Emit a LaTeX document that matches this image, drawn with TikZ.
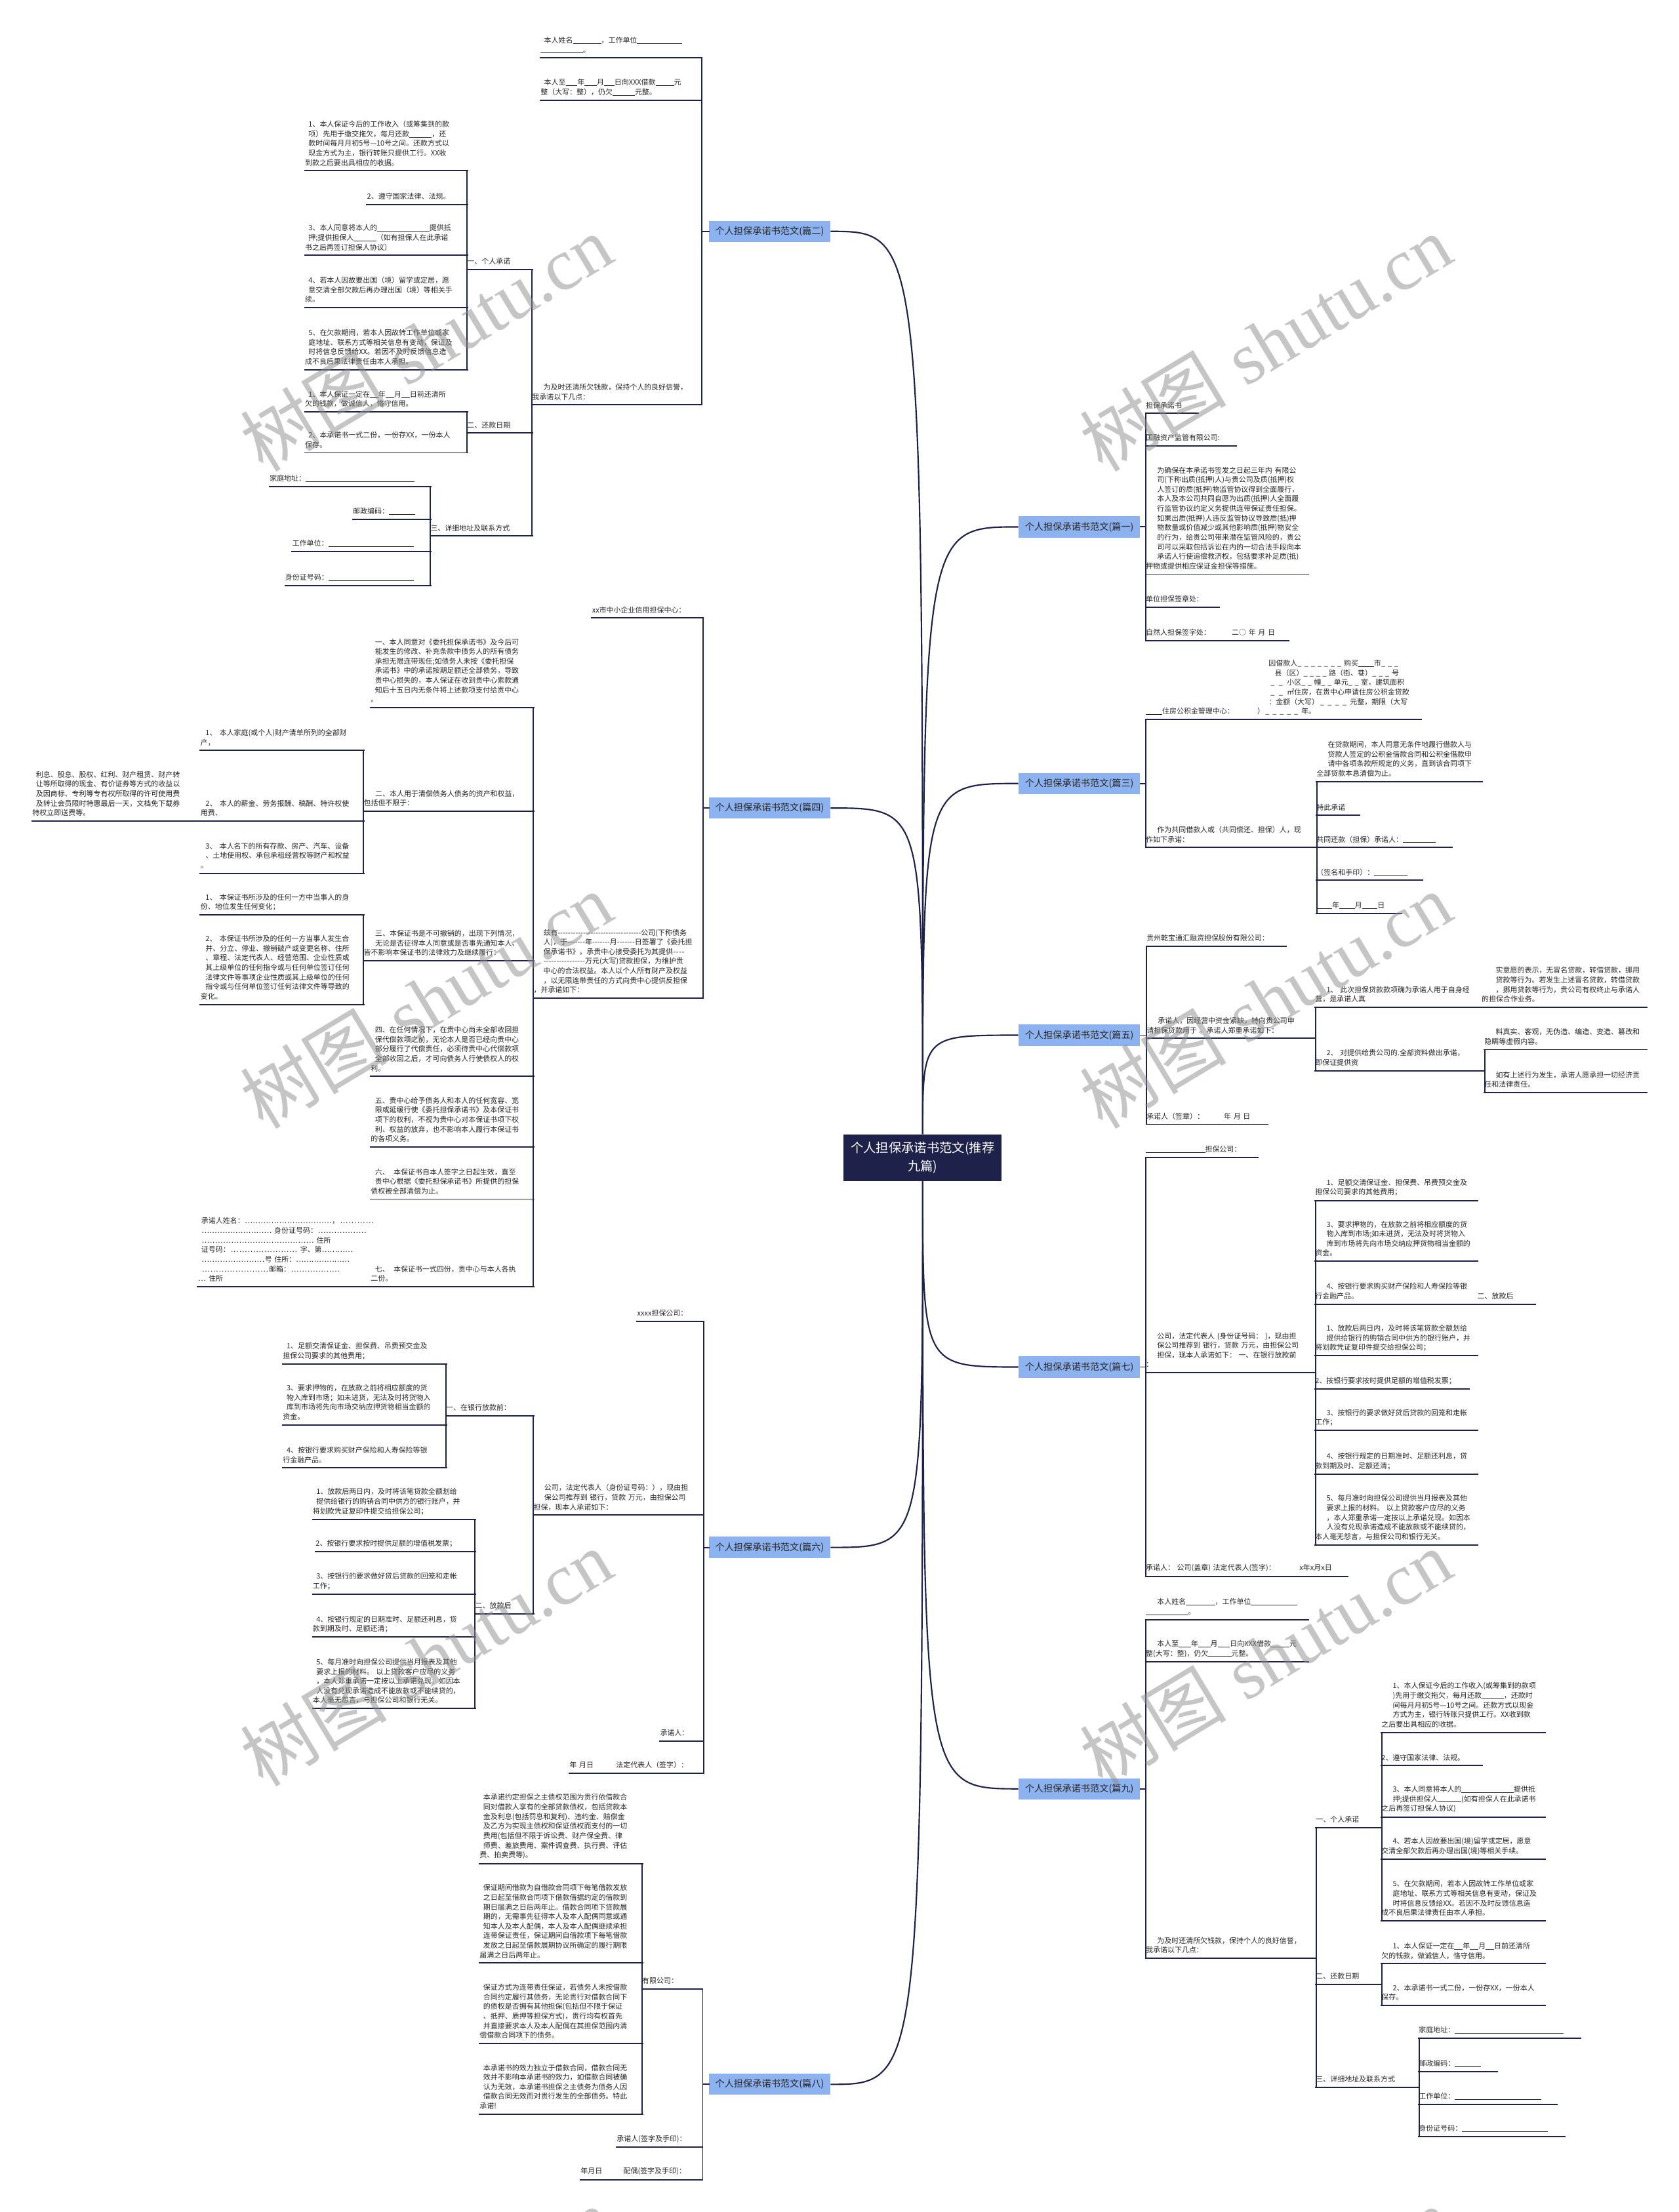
\documentclass[tikz,border=0pt]{standalone}
\usepackage{fontspec}
\newfontfamily\cjk{Noto Sans CJK SC}
\newfontfamily\wmlat{Liberation Serif}
\definecolor{navy}{RGB}{30,33,74}
\definecolor{brfill}{RGB}{141,178,240}
\definecolor{txtc}{RGB}{38,38,38}
\newcommand\blk[1]{\leavevmode\rule[-0.55pt]{#1pt}{0.35pt}}
\newcommand\dln[1]{\leavevmode\hbox to #1pt{\xleaders\hbox{-}\hfill}}
\newcommand\ddt[1]{\leavevmode\hbox to #1pt{\xleaders\hbox{…}\hfill}}
\newcommand\dsh[1]{\leavevmode\hbox to #1pt{\xleaders\hbox{\_\hspace{1.6pt}}\hfill}}
\newcommand\mnode[6]{%
  \pgfmathsetmacro\ndw{#3-#2}%
  \node[nd,text width=\ndw pt,anchor=south west] (#1) at (#2,#4) {\leftskip=#5pt\relax #6\rule[-0.6pt]{0pt}{0.6pt}};%
  \draw[ul] (#1.south west) -- (#1.south east);%
}
\tikzset{
  nd/.style={font=\cjk\fontsize{5.1}{6.8}\selectfont,text=txtc,align=left,inner xsep=0pt,inner ysep=3pt},
  ul/.style={draw=navy,line width=0.9pt,line cap=rect},
  cv/.style={draw=navy,line width=1pt},
  br/.style={fill=brfill,text=black!85,font=\cjk\fontsize{6.6}{8}\selectfont,minimum width=86pt,minimum height=15pt,inner sep=0pt},
  ctr/.style={fill=navy,text=white,font=\cjk\fontsize{9}{13}\selectfont,minimum width=112pt,minimum height=33pt,text width=108pt,align=center,inner sep=0pt},
  wm/.style={text=black!45,text opacity=0.5,rotate=31,inner sep=0pt,font=\fontsize{52}{60}\selectfont},
}
\begin{document}
\begin{tikzpicture}[x=1pt,y=-1pt]
\fill[white] (0,0) rectangle (1190,1568);
\useasboundingbox (0,0) rectangle (1190,1568);

% ---------- centre and branches ----------
\node[ctr] (c) at (654,820.5) {个人担保承诺书范文(推荐\\九篇)};
\node[br] (b1) at (765,373.5) {个人担保承诺书范文(篇一)};
\node[br] (b2) at (545.5,164) {个人担保承诺书范文(篇二)};
\node[br] (b3) at (765,555.4) {个人担保承诺书范文(篇三)};
\node[br] (b4) at (545.5,572.8) {个人担保承诺书范文(篇四)};
\node[br] (b5) at (765,733.8) {个人担保承诺书范文(篇五)};
\node[br] (b6) at (545.5,1096.9) {个人担保承诺书范文(篇六)};
\node[br] (b7) at (765,969) {个人担保承诺书范文(篇七)};
\node[br] (b8) at (545.5,1477.5) {个人担保承诺书范文(篇八)};
\node[br] (b9) at (765,1268) {个人担保承诺书范文(篇九)};

\draw[cv] (c.north) .. controls (654,373.5) .. (b1.west);
\draw[cv] (c.north) .. controls (654,164) .. (b2.east);
\draw[cv] (c.north) .. controls (654,555.4) .. (b3.west);
\draw[cv] (c.north) .. controls (654,572.8) .. (b4.east);
\draw[cv] (c.north) .. controls (654,733.8) .. (b5.west);
\draw[cv] (c.south) .. controls (654,1096.9) .. (b6.east);
\draw[cv] (c.south) .. controls (654,969) .. (b7.west);
\draw[cv] (c.south) .. controls (654,1477.5) .. (b8.east);
\draw[cv] (c.south) .. controls (654,1268) .. (b9.west);

% ---------- 篇一 ----------
\mnode{n1a}{812}{849}{293}{8}{担保承诺书}
\mnode{n1b}{812}{876}{316}{8}{国融资产监管有限公司:}
\mnode{n1c}{812}{927}{407}{8}{为确保在本承诺书签发之日起三年内 有限公\\
司(下称出质(抵押)人)与贵公司及质(抵押)权\\
人签订的质(抵押)物监管协议得到全面履行，\\
本人及本公司共同自愿为出质(抵押)人全面履\\
行监管协议约定义务提供连带保证责任担保。\\
如果出质(抵押)人违反监管协议导致质(抵)押\\
物数量或价值减少或其他影响质(抵押)物安全\\
的行为，给贵公司带来潜在监管风险的，贵公\\
司可以采取包括诉讼在内的一切合法手段向本\\
承诺人行使追偿救济权，包括要求补足质(抵)\\
押物或提供相应保证金担保等措施。}
\mnode{n1d}{812}{864}{430.5}{8}{单位担保签章处：}
\mnode{n1e}{812}{913}{454}{8}{自然人担保签字处：\hspace{15pt}二○ 年 月 日}
\foreach \q in {n1a,n1b,n1c,n1d,n1e} \draw[ul] (b1.east) -| (\q.south west);

% ---------- 篇三 ----------
\mnode{n3a}{812}{891}{510}{8}{\blk{11.6}住房公积金管理中心：}
\mnode{n3a1}{891}{1007}{510}{8}{因借款人\dsh{33}购买\blk{11}市\dsh{14}\\
\dsh{4.3}县（区）\dsh{18}路（街、巷）\dsh{14}号\dsh{4.3}\\
\dsh{13}小区\dsh{9}幢\dsh{9}单元\dsh{9}室，建筑面积\\
\dsh{13}㎡住房，在贵中心申请住房公积金贷款\\
：金额（大写）\dsh{22}元整，期限（大写\\
）\dsh{26}年。}
\mnode{n3b}{812}{933}{600.7}{8}{作为共同借款人或（共同偿还、担保）人，现\\作如下承诺：}
\mnode{n3b1}{933}{1050}{554}{8}{在贷款期间，本人同意无条件地履行借款人与\\
贷款人签定的公积金借款合同和公积金借款申\\
请中各项条款所规定的义务，直到该合同项下\\
全部贷款本息清偿为止。}
\mnode{n3b2}{933}{963.5}{578}{8}{特此承诺}
\mnode{n3b3}{933}{1029}{600.7}{8}{共同还款（担保）承诺人：\blk{23}}
\mnode{n3b4}{933}{1008}{624}{8}{（签名和手印）：\blk{23.5}}
\mnode{n3b5}{933}{993}{647.5}{8}{\blk{11}年\blk{11}月\blk{11}日}
\foreach \q in {n3a,n3b} \draw[ul] (b3.east) -| (\q.south west);
\draw[ul] (n3a.south east) |- (n3a1.south west);
\foreach \q in {n3b1,n3b2,n3b3,n3b4,n3b5} \draw[ul] (n3b.south east) |- (\q.south west);

% ---------- 篇五 ----------
\mnode{n5a}{812.5}{911}{670.6}{8}{贵州乾宝通汇融资担保股份有限公司：}
\mnode{n5b}{812.5}{932}{736}{8}{承诺人，因经营中资金紧缺，特向贵公司申\\请担保贷款用于 。承诺人郑重承诺如下：}
\mnode{n5b1}{932}{1050}{714}{8}{1、 此次担保贷款款项确为承诺人用于自身经\\营，是承诺人真}
\mnode{n5b1a}{1050}{1167}{714}{10}{实意愿的表示，无冒名贷款，转借贷款，挪用\\
贷款等行为。若发生上述冒名贷款，转借贷款\\
，挪用贷款等行为，贵公司有权终止与承诺人\\
的担保合作业务。}
\mnode{n5b2}{932}{1052}{759}{8}{2、 对提供给贵公司的.全部资料做出承诺，\\即保证提供资}
\mnode{n5b2a}{1052}{1167}{744}{8}{料真实、客观，无伪造、编造、变造、篡改和\\隐瞒等虚假内容。}
\mnode{n5b2b}{1052}{1167}{774.5}{8}{如有上述行为发生，承诺人愿承担一切经济责\\任和法律责任。}
\mnode{n5c}{812.5}{898}{797}{8}{承诺人（签章）：\hspace{14pt}年 月 日}
\foreach \q in {n5a,n5b,n5c} \draw[ul] (b5.east) -| (\q.south west);
\foreach \q in {n5b1,n5b2} \draw[ul] (n5b.south east) |- (\q.south west);
\draw[ul] (n5b1.south east) |- (n5b1a.south west);
\foreach \q in {n5b2a,n5b2b} \draw[ul] (n5b2.south east) |- (\q.south west);

% ---------- 篇七 ----------
\mnode{n7a}{812}{891}{820.5}{8}{\blk{42}担保公司：}
\mnode{n7b}{812}{932}{973}{8}{公司，法定代表人 (身份证号码： )，现由担\\
保公司推荐到 银行，贷款 万元，由担保公司\\
担保，现本人承诺如下： 一、在银行放款前\\
：}
\mnode{n7b1}{932}{1047}{851}{8}{1、足额交清保证金、担保费、吊费预交金及\\担保公司要求的其他费用；}
\mnode{n7b2}{932}{1047}{894}{8}{3、要求押物的，在放款之前将相应额度的货\\
物入库到市场;如未进货，无法及时将货物入\\
库到市场将先向市场交纳应押货物相当金额的\\
资金。}
\mnode{n7b3}{932}{1047}{924.5}{8}{4、按银行要求购买财产保险和人寿保险等银\\行金融产品。}
\mnode{n7b3a}{1047}{1088}{924.5}{13}{二、放款后}
\mnode{n7b4}{932}{1047}{961}{8}{1、放款后两日内，及时将该笔贷款全额划给\\
提供给银行的购销合同中供方的银行账户，并\\
将划款凭证复印件提交给担保公司；}
\mnode{n7b5}{932}{1041}{984.5}{8}{2、按银行要求按时提供足额的增值税发票；}
\mnode{n7b6}{932}{1047}{1014}{8}{3、按银行的要求做好贷后贷款的回笼和走帐\\工作；}
\mnode{n7b7}{932}{1047}{1045}{8}{4、按银行规定的日期准时、足额还利息，贷\\款到期及时、足额还清；}
\mnode{n7b8}{932}{1047}{1095}{8}{5、每月准时向担保公司提供当月报表及其他\\
要求上报的材料。 以上贷款客户应尽的义务\\
，本人郑重承诺一定按以上承诺兑现。如因本\\
人没有兑现承诺造成不能放款或不能续贷的，\\
本人毫无怨言，与担保公司和银行无关。}
\mnode{n7c}{812}{955}{1117.5}{8}{承诺人： 公司(盖章) 法定代表人(签字)：\hspace{17pt}x年x月x日}
\foreach \q in {n7a,n7b,n7c} \draw[ul] (b7.east) -| (\q.south west);
\foreach \q in {n7b1,n7b2,n7b3,n7b4,n7b5,n7b6,n7b7,n7b8} \draw[ul] (n7b.south east) |- (\q.south west);
\draw[ul] (n7b3.south east) |- (n7b3a.south west);

% ---------- 篇九 ----------
\mnode{n9a}{812}{927}{1148}{8}{本人姓名\blk{20.6}，工作单位\blk{33}\\\blk{30}。}
\mnode{n9b}{812}{927}{1178}{8}{本人至\blk{8.7}年\blk{8.7}月\blk{8.7}日向XXX借款\blk{13}元\\整(大写：整)，仍欠\blk{16.4}元整。}
\mnode{n9c}{812}{932.5}{1388}{8}{为及时还清所欠钱款，保持个人的良好信誉，\\我承诺以下几点：}
\mnode{n9c1}{932.5}{979}{1295.5}{8}{一、个人承诺}
\mnode{n9c1a}{979}{1094.7}{1228}{8}{1、本人保证今后的工作收入(或筹集到的款项\\
)先用于缴交拖欠，每月还款\blk{15.8}，还款时\\
间每月月初5号—10号之间。还款方式以现金\\
方式为主，银行转账只提供工行。XX收到款\\
之后要出具相应的收据。}
\mnode{n9c1b}{979}{1050}{1251.5}{8}{2、遵守国家法律、法规。}
\mnode{n9c1c}{979}{1094.7}{1288}{8}{3、本人同意将本人的\blk{37}提供抵\\
押;提供担保人\blk{16.6}(如有担保人在此承诺书\\
之后再签订担保人协议)}
\mnode{n9c1d}{979}{1094.7}{1318}{8}{4、若本人因故要出国(境)留学或定居，愿意\\交清全部欠款后再办理出国(境)等相关手续。}
\mnode{n9c1e}{979}{1094.7}{1361.6}{8}{5、在欠款期间，若本人因故转工作单位或家\\
庭地址、联系方式等相关信息有变动，保证及\\
时将信息反馈给XX。若因不及时反馈信息造\\
成不良后果法律责任由本人承担。}
\mnode{n9c2}{932.5}{979}{1406.5}{8}{二、还款日期}
\mnode{n9c2a}{979}{1094.7}{1392}{8}{1、本人保证一定在\blk{6}年\blk{6}月\blk{6}日前还清所\\欠的钱款，做诚信人，恪守信用。}
\mnode{n9c2b}{979}{1094.7}{1421.5}{8}{2、本承诺书一式二份，一份存XX，一份本人\\保存。}
\mnode{n9c3}{932.5}{1005.5}{1479.5}{8}{三、详细地址及联系方式}
\mnode{n9c3a}{1005.5}{1120}{1444.8}{7.5}{家庭地址：\blk{77}}
\mnode{n9c3b}{1005.5}{1061}{1468.5}{7.5}{邮政编码：\blk{18.4}}
\mnode{n9c3c}{1005.5}{1103}{1491.7}{7.5}{工作单位：\blk{61}}
\mnode{n9c3d}{1005.5}{1108.6}{1514.5}{7.5}{身份证号码：\blk{61}}
\foreach \q in {n9a,n9b,n9c} \draw[ul] (b9.east) -| (\q.south west);
\foreach \q in {n9c1,n9c2,n9c3} \draw[ul] (n9c.south east) |- (\q.south west);
\foreach \q in {n9c1a,n9c1b,n9c1c,n9c1d,n9c1e} \draw[ul] (n9c1.south east) |- (\q.south west);
\foreach \q in {n9c2a,n9c2b} \draw[ul] (n9c2.south east) |- (\q.south west);
\foreach \q in {n9c3a,n9c3b,n9c3c,n9c3d} \draw[ul] (n9c3.south east) |- (\q.south west);

% ---------- 篇二 ----------
\mnode{n2a}{383}{497}{41}{2.5}{本人姓名\blk{20}，工作单位\blk{32}\\\blk{30}。}
\mnode{n2b}{383}{497}{71}{2.5}{本人至\blk{8.3}年\blk{8.7}月\blk{7.3}日向XXX借款\blk{13}元\\整（大写：整），仍欠\blk{15.8}元整。}
\mnode{n2c}{377}{497}{287}{8}{为及时还清所欠钱款，保持个人的良好信誉，\\我承诺以下几点：}
\mnode{n2c1}{331}{377}{191}{7.5}{一、个人承诺}
\mnode{n2c2}{331}{377}{307}{7.5}{二、还款日期}
\mnode{n2c3}{305}{377}{380}{7.6}{三、详细地址及联系方式}
\mnode{n2c1a}{216}{331}{121}{2.5}{1、本人保证今后的工作收入（或筹集到的款\\
项）先用于缴交拖欠，每月还款\blk{16}，还\\
款时间每月月初5号—10号之间。还款方式以\\
现金方式为主，银行转账只提供工行。XX收\\
到款之后要出具相应的收据。}
\mnode{n2c1b}{260}{331}{145}{2.5}{2、遵守国家法律、法规。}
\mnode{n2c1c}{216}{331}{181}{2.5}{3、本人同意将本人的\blk{37}提供抵\\
押;提供担保人\blk{16}（如有担保人在此承诺\\
书之后再签订担保人协议）}
\mnode{n2c1d}{216}{331}{218}{2.5}{4、若本人因故要出国（境）留学或定居，愿\\
意交清全部欠款后再办理出国（境）等相关手\\
续。}
\mnode{n2c1e}{216}{331}{262}{2.5}{5、在欠款期间，若本人因故转工作单位或家\\
庭地址、联系方式等相关信息有变动，保证及\\
时将信息反馈给XX。若因不及时反馈信息造\\
成不良后果法律责任由本人承担。}
\mnode{n2c2a}{216}{331}{292}{2.5}{1、本人保证一定在\blk{6}年\blk{6}月\blk{6}日前还清所\\欠的钱款，做诚信人，恪守信用。}
\mnode{n2c2b}{216}{331}{321}{2.5}{2、本承诺书一式二份，一份存XX，一份本人\\保存。}
\mnode{n2c3a}{191}{305}{345}{3}{家庭地址：\blk{77}}
\mnode{n2c3b}{250}{305}{368}{3}{邮政编码：\blk{18.5}}
\mnode{n2c3c}{207}{305}{391}{3.5}{工作单位：\blk{60.6}}
\mnode{n2c3d}{202}{305}{415}{3}{身份证号码：\blk{60.6}}
\foreach \q in {n2a,n2b,n2c} \draw[ul] (b2.west) -| (\q.south east);
\foreach \q in {n2c1,n2c2,n2c3} \draw[ul] (n2c.south west) |- (\q.south east);
\foreach \q in {n2c1a,n2c1b,n2c1c,n2c1d,n2c1e} \draw[ul] (n2c1.south west) |- (\q.south east);
\foreach \q in {n2c2a,n2c2b} \draw[ul] (n2c2.south west) |- (\q.south east);
\foreach \q in {n2c3a,n2c3b,n2c3c,n2c3d} \draw[ul] (n2c3.south west) |- (\q.south east);

% ---------- 篇四 ----------
\mnode{n4a}{419.5}{498}{438}{2.5}{xx市中小企业信用担保中心：}
\mnode{n4b}{378}{498}{707.5}{7}{兹有\dln{59}公司(下称债务\\
人)，于\dln{12.5}年\dln{12.5}月\dln{12.5}日签署了《委托担\\
保承诺书》，承贵中心接受委托为其提供\dln{8.3}\\
\dln{29.5}万元(大写)贷款担保，为维护贵\\
中心的合法权益。本人以个人所有财产及权益\\
，以无限连带责任的方式向贵中心提供反担保\\
，并承诺如下：}
\mnode{n4b1}{262.6}{378}{501.6}{3}{一、本人同意对《委托担保承诺书》及今后可\\
能发生的修改、补充条款中债务人的所有债务\\
承担无限连带现任;如债务人未按《委托担保\\
承诺书》中的承诺按期足额还全部债务，导致\\
贵中心损失的，本人保证在收到贵中心索款通\\
知后十五日内无条件将上述款项支付给贵中心\\
。}
\mnode{n4b2}{257.6}{378}{575}{8.2}{二、本人用于清偿债务人债务的资产和权益，\\包括但不限于：}
\mnode{n4b3}{257.6}{378}{681}{8.2}{三、本保证书是不可撤销的，出现下列情况，\\
无论是否征得本人同意或是否事先通知本人、\\
皆不影响本保证书的法律效力及继续履行：}
\mnode{n4b4}{262.6}{378}{763}{3}{四、在任何情况下，在贵中心尚未全部收回担\\
保代偿款项之前，无论本人是否已经向贵中心\\
部分履行了代偿责任，必须待贵中心代偿款项\\
全部收回之后，才可向债务人行使债权人的权\\
利。}
\mnode{n4b5}{262.6}{378}{813}{3}{五、贵中心给予债务人和本人的任何宽容、宽\\
限或延缓行使《委托担保承诺书》及本保证书\\
项下的权利，不视为贵中心对本保证书项下权\\
利、权益的放弃，也不影响本人履行本保证书\\
的各项义务。}
\mnode{n4b6}{262.6}{378}{850}{3}{六、\hspace{3pt}本保证书自本人签字之日起生效，直至\\
贵中心根据《委托担保承诺书》所提供的担保\\
债权被全部清偿为止。}
\mnode{n4b7}{262.6}{378}{912}{3}{七、\hspace{3pt}本保证书一式四份，贵中心与本人各执\\二份。}
\mnode{n4b7a}{140}{262.6}{912}{2.5}{承诺人姓名：\ddt{62}，\ddt{25}\\
\ddt{50} 身份证号码：\ddt{35}\\
\ddt{80} 住所\\
证号码：\ddt{48} 字、第\ddt{22}\\
\ddt{45}号 住所：\ddt{38}\\
\ddt{48}邮箱：\ddt{35}\\
\ddt{6} 住所}
\mnode{n4b2a}{142}{257.6}{532}{3.5}{1、\hspace{2pt}本人家庭(或个人)财产清单所列的全部财\\产，}
\mnode{n4b2b}{142}{257.6}{582}{3.5}{2、\hspace{2pt}本人的薪金、劳务报酬、稿酬、特许权使\\用费、}
\mnode{n4b2c}{142}{257.6}{619}{3.5}{3、\hspace{2pt}本人名下的所有存款、房产、汽车、设备\\
、土地使用权、承包承租经营权等财产和权益\\
。}
\mnode{n4b2b1}{22.8}{142}{582}{2.5}{利息、股息、股权、红利、财产租赁、财产转\\
让等所取得的现金、有价证券等方式的收益以\\
及因商标、专利等专有权所取得的许可使用费\\
及转让会员限时特惠最后一天，文档免下载券\\
特权立即送费等。}
\mnode{n4b3a}{142}{257.6}{648.7}{3.5}{1、\hspace{2pt}本保证书所涉及的任何一方中当事人的身\\份、地位发生任何变化；}
\mnode{n4b3b}{142}{257.6}{712}{3.5}{2、\hspace{2pt}本保证书所涉及的任何一方当事人发生合\\
并、分立、停业、撤销破产或变更名称、住所\\
、章程、法定代表人、经营范围、企业性质或\\
其上级单位的任何指令或与任何单位签订任何\\
法律文件等事项企业性质或其上级单位的任何\\
指令或与任何单位签订任何法律文件等导致的\\
变化。}
\foreach \q in {n4a,n4b} \draw[ul] (b4.west) -| (\q.south east);
\foreach \q in {n4b1,n4b2,n4b3,n4b4,n4b5,n4b6,n4b7} \draw[ul] (n4b.south west) |- (\q.south east);
\foreach \q in {n4b2a,n4b2b,n4b2c} \draw[ul] (n4b2.south west) |- (\q.south east);
\draw[ul] (n4b2b.south west) |- (n4b2b1.south east);
\foreach \q in {n4b3a,n4b3b} \draw[ul] (n4b3.south west) |- (\q.south east);
\draw[ul] (n4b7.south west) |- (n4b7a.south east);

% ---------- 篇六 ----------
\mnode{n6a}{451.5}{498.4}{936.7}{2.5}{xxxx担保公司：}
\mnode{n6b}{378}{498.4}{1074}{7.6}{公司，法定代表人（身份证号码：），现由担\\
保公司推荐到 银行，贷款 万元，由担保公司\\
担保，现本人承诺如下：}
\mnode{n6c}{467.7}{498.4}{1234}{2.5}{承诺人：}
\mnode{n6d}{403.5}{498.4}{1257}{2.5}{年 月日\hspace{16pt}法定代表人（签字）：}
\mnode{n6b1}{316}{378}{1003.6}{7}{一、在银行放款前：}
\mnode{n6b2}{336.7}{378}{1144}{7.8}{二、放款后}
\mnode{n6b1a}{200.3}{316}{967}{2.7}{1、足额交清保证金、担保费、吊费预交金及\\担保公司要求的其他费用；}
\mnode{n6b1b}{200.3}{316}{1010}{2.7}{3、要求押物的，在放款之前将相应额度的货\\
物入库到市场；如未进货，无法及时将货物入\\
库到市场将先向市场交纳应押货物相当金额的\\
资金。}
\mnode{n6b1c}{200.3}{316}{1040.5}{2.7}{4、按银行要求购买财产保险和人寿保险等银\\行金融产品。}
\mnode{n6b2a}{221.5}{336.7}{1077}{2.5}{1、放款后两日内，及时将该笔贷款全额划给\\
提供给银行的购销合同中供方的银行账户，并\\
将划款凭证复印件提交给担保公司；}
\mnode{n6b2b}{223.6}{336.7}{1100}{3.4}{2、按银行要求按时提供足额的增值税发票；}
\mnode{n6b2c}{221.5}{336.7}{1130}{2.5}{3、按银行的要求做好贷后贷款的回笼和走帐\\工作；}
\mnode{n6b2d}{221.5}{336.7}{1160.5}{2.5}{4、按银行规定的日期准时、足额还利息，贷\\款到期及时、足额还清；}
\mnode{n6b2e}{221.5}{336.7}{1211}{2.5}{5、每月准时向担保公司提供当月报表及其他\\
要求上报的材料。 以上贷款客户应尽的义务\\
，本人郑重承诺一定按以上承诺兑现。如因本\\
人没有兑现承诺造成不能放款或不能续贷的，\\
本人毫无怨言，与担保公司和银行无关。}
\foreach \q in {n6a,n6b,n6c,n6d} \draw[ul] (b6.west) -| (\q.south east);
\foreach \q in {n6b1,n6b2} \draw[ul] (n6b.south west) |- (\q.south east);
\foreach \q in {n6b1a,n6b1b,n6b1c} \draw[ul] (n6b1.south west) |- (\q.south east);
\foreach \q in {n6b2a,n6b2b,n6b2c,n6b2d,n6b2e} \draw[ul] (n6b2.south west) |- (\q.south east);

% ---------- 篇八 ----------
\mnode{n8a}{455}{497.7}{1410}{7.5}{有限公司：}
\mnode{n8b}{437}{497.7}{1522}{3}{承诺人(签字及手印)：}
\mnode{n8c}{411.4}{497.7}{1545}{3}{年月日\hspace{15pt}配偶(签字及手印)：}
\mnode{n8a1}{339.8}{455}{1321}{2.6}{本承诺约定担保之主债权范围为贵行依借款合\\
同对借款人享有的全部贷款债权，包括贷款本\\
金及利息(包括罚息和复利)、违约金、赔偿金\\
及乙方为实现主债权和保证债权而支付的一切\\
费用(包括但不限于诉讼费、财产保全费、律\\
师费、差旅费用、案件调查费、执行费、评估\\
费、拍卖费等)。}
\mnode{n8a2}{339.8}{455}{1391.5}{2.6}{保证期间借款为自借款合同项下每笔借款发放\\
之日起至借款合同项下借款借据约定的借款到\\
期日届满之日后两年止。借款合同项下贷款展\\
期的，无需事先征得本人及本人配偶同意或通\\
知本人及本人配偶，本人及本人配偶继续承担\\
连带保证责任，保证期间自借款项下每笔借款\\
发放之日起至借款展期协议所确定的履行期限\\
届满之日后两年止。}
\mnode{n8a3}{339.8}{455}{1448.5}{2.6}{保证方式为连带责任保证，若债务人未按借款\\
合同约定履行其债务，无论贵行对借款合同下\\
的债权是否拥有其他担保(包括但不限于保证\\
、抵押、质押等担保方式)，贵行均有权首先\\
并直接要求本人及本人配偶在其担保范围内清\\
偿借款合同项下的债务。}
\mnode{n8a4}{339.8}{455}{1498.6}{2.6}{本承诺书的效力独立于借款合同，借款合同无\\
效并不影响本承诺书的效力，如借款合同被确\\
认为无效，本承诺书担保之主债务为债务人因\\
借款合同无效而对贵行发生的全部债务。特此\\
承诺!}
\foreach \q in {n8a,n8b,n8c} \draw[ul] (b8.west) -| (\q.south east);
\foreach \q in {n8a1,n8a2,n8a3,n8a4} \draw[ul] (n8a.south west) |- (\q.south east);

% ---------- watermarks ----------
\node[wm] (w1) at (302,243) {{\cjk 树图}\hspace{14pt}{\wmlat shutu.cn}};
\node[wm] (w2) at (897,243) {{\cjk 树图}\hspace{14pt}{\wmlat shutu.cn}};
\node[wm] (w3) at (302,709) {{\cjk 树图}\hspace{14pt}{\wmlat shutu.cn}};
\node[wm] (w4) at (897,709) {{\cjk 树图}\hspace{14pt}{\wmlat shutu.cn}};
\node[wm] (w5) at (302,1175) {{\cjk 树图}\hspace{14pt}{\wmlat shutu.cn}};
\node[wm] (w6) at (897,1175) {{\cjk 树图}\hspace{14pt}{\wmlat shutu.cn}};
\node[wm] (w7) at (302,1641) {{\cjk 树图}\hspace{14pt}{\wmlat shutu.cn}};
\node[wm] (w8) at (897,1641) {{\cjk 树图}\hspace{14pt}{\wmlat shutu.cn}};
\end{tikzpicture}
\end{document}
